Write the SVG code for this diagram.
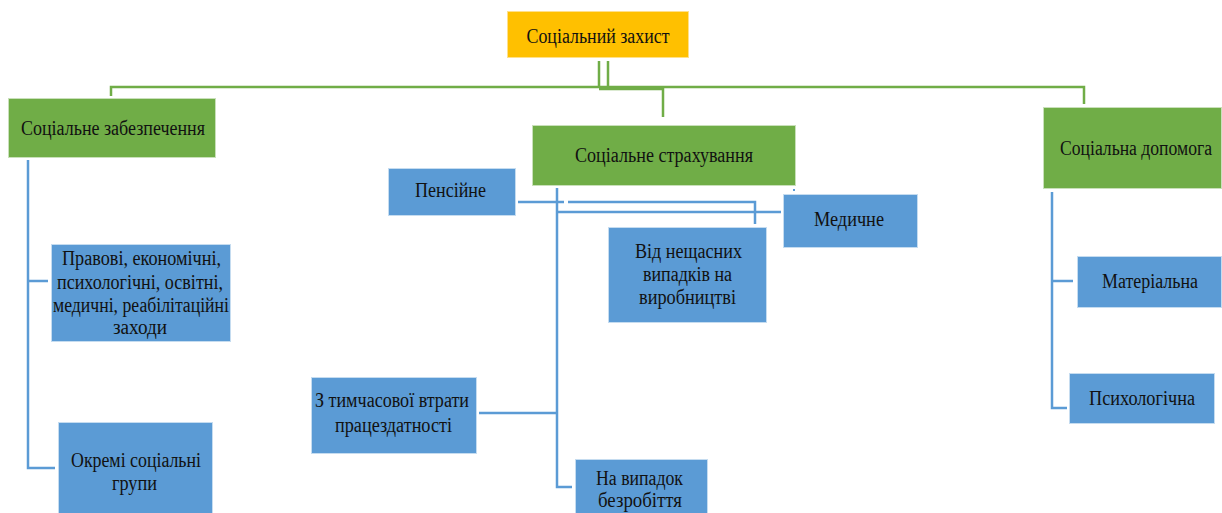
<svg xmlns="http://www.w3.org/2000/svg" width="1222" height="513" viewBox="0 0 1222 513">
<style>
.g{fill:#70AD47;stroke:#C9E0BA;stroke-width:1}
.b{fill:#5B9BD5;stroke:#C5DCF0;stroke-width:1}
.o{fill:#FFC000;stroke:#FFE08A;stroke-width:1}
.t{font-family:"Liberation Serif","Times New Roman",serif;font-size:20px;fill:#111;text-anchor:middle}
.gl{fill:none;stroke:#70AD47;stroke-width:2.5}
.bl{fill:none;stroke:#5B9BD5;stroke-width:2.5}
</style>
<rect width="1222" height="513" fill="#fff"/>
<g id="connectors">
<path class="gl" d="M599 61V88M608 61V88M111 96V87H1084V104M599 89H663V117"/>
<path class="bl" d="M28 160V468H55M28 281H48"/>
<path class="bl" d="M557 188V487H572M479 413H557M518 202H564M568 202H755V224M557 212H781"/>
<path class="bl" d="M1052 192V408H1067M1052 281H1073"/>
<rect x="793" y="189" width="2" height="2" fill="#5B9BD5"/>
</g>
<g id="n_root"><rect class="o" x="507.5" y="11.5" width="181" height="46"/><text class="t" x="598" y="43" textLength="143" lengthAdjust="spacingAndGlyphs">Соціальний захист</text></g>
<g id="n_zabezp"><rect class="g" x="8.5" y="98.5" width="207" height="59"/><text class="t" x="113" y="135" textLength="184" lengthAdjust="spacingAndGlyphs">Соціальне забезпечення</text></g>
<g id="n_strakh"><rect class="g" x="532.5" y="125.5" width="263" height="60"/><text class="t" x="664" y="162" textLength="178" lengthAdjust="spacingAndGlyphs">Соціальне страхування</text></g>
<g id="n_dopom"><rect class="g" x="1043.5" y="107.5" width="178" height="81"/><text class="t" x="1136" y="155" textLength="152" lengthAdjust="spacingAndGlyphs">Соціальна допомога</text></g>
<g id="n_pravovi"><rect class="b" x="51.5" y="244.5" width="179" height="97"/>
<text class="t" x="141.5" y="265" textLength="159" lengthAdjust="spacingAndGlyphs">Правові, економічні,</text>
<text class="t" x="140" y="289" textLength="166" lengthAdjust="spacingAndGlyphs">психологічні, освітні,</text>
<text class="t" x="141" y="312" textLength="176" lengthAdjust="spacingAndGlyphs">медичні, реабілітаційні</text>
<text class="t" x="140" y="334" textLength="54" lengthAdjust="spacingAndGlyphs">заходи</text></g>
<g id="n_okremi"><rect class="b" x="58.5" y="422.5" width="154" height="92"/>
<text class="t" x="136" y="467" textLength="130" lengthAdjust="spacingAndGlyphs">Окремі соціальні</text>
<text class="t" x="134.5" y="490" textLength="45" lengthAdjust="spacingAndGlyphs">групи</text></g>
<g id="n_pensiine"><rect class="b" x="388.5" y="168.5" width="127" height="47"/><text class="t" x="450.5" y="197" textLength="71" lengthAdjust="spacingAndGlyphs">Пенсійне</text></g>
<g id="n_medychne"><rect class="b" x="783.5" y="194.5" width="134" height="53"/><text class="t" x="849" y="226" textLength="70" lengthAdjust="spacingAndGlyphs">Медичне</text></g>
<g id="n_vidneshch"><rect class="b" x="608.5" y="227.5" width="158" height="95"/>
<text class="t" x="688.5" y="258" textLength="107" lengthAdjust="spacingAndGlyphs">Від нещасних</text>
<text class="t" x="687.5" y="281" textLength="89" lengthAdjust="spacingAndGlyphs">випадків на</text>
<text class="t" x="687.5" y="304" textLength="97" lengthAdjust="spacingAndGlyphs">виробництві</text></g>
<g id="n_tymch"><rect class="b" x="311.5" y="377.5" width="165" height="76"/>
<text class="t" x="392" y="407" textLength="154" lengthAdjust="spacingAndGlyphs">З тимчасової втрати</text>
<text class="t" x="393.5" y="432" textLength="117" lengthAdjust="spacingAndGlyphs">працездатності</text></g>
<g id="n_bezrob"><rect class="b" x="575.5" y="459.5" width="132" height="55"/>
<text class="t" x="639.5" y="485" textLength="87" lengthAdjust="spacingAndGlyphs">На випадок</text>
<text class="t" x="640" y="507" textLength="84" lengthAdjust="spacingAndGlyphs">безробіття</text></g>
<g id="n_mater"><rect class="b" x="1077.5" y="256.5" width="144" height="51"/><text class="t" x="1150" y="288" textLength="96" lengthAdjust="spacingAndGlyphs">Матеріальна</text></g>
<g id="n_psykh"><rect class="b" x="1069.5" y="373.5" width="145" height="50"/><text class="t" x="1142" y="405" textLength="106" lengthAdjust="spacingAndGlyphs">Психологічна</text></g>
</svg>
